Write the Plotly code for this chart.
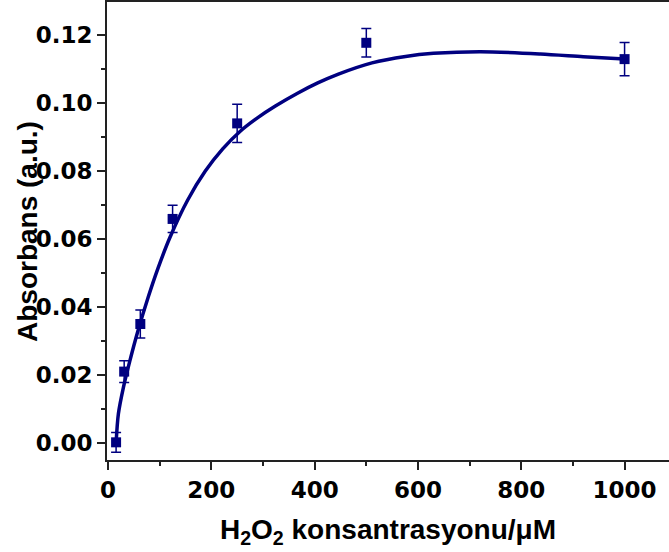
import plotly.graph_objects as go

# Measured data points
conc = [15.6, 31.25, 62.5, 125, 250, 500, 1000]
absorb = [0.0002, 0.021, 0.0350, 0.0659, 0.094, 0.1177, 0.1129]
err = [0.0029, 0.0032, 0.0041, 0.0040, 0.0056, 0.0042, 0.0049]

# Fitted curve
fit_x = [15.6, 20, 30, 42, 58, 78, 97, 120, 154, 188, 222, 256, 290, 324,
         366, 406, 446, 511, 576, 630, 721, 837, 920, 1000]
fit_y = [0.0, 0.0085, 0.0165, 0.024, 0.033, 0.043, 0.0515, 0.0605, 0.0714,
         0.0799, 0.0865, 0.0917, 0.0957, 0.0991, 0.1028, 0.1059, 0.1085,
         0.1118, 0.1137, 0.1146, 0.1151, 0.1144, 0.1136, 0.1129]

navy = "#000080"
hfont = "DejaVu Sans, Verdana, sans-serif"
afont = "Liberation Sans, Arial, sans-serif"

fig = go.Figure()
fig.add_trace(go.Scatter(
    x=fit_x, y=fit_y, mode="lines",
    line=dict(color=navy, width=3.5, shape="spline", smoothing=0.8),
    showlegend=False, hoverinfo="skip"))
fig.add_trace(go.Scatter(
    x=conc, y=absorb, mode="markers",
    marker=dict(symbol="square", size=10, color=navy),
    error_y=dict(type="data", array=err, visible=True, color=navy,
                 thickness=1.5, width=5),
    showlegend=False))

fig.update_layout(
    width=669, height=552,
    margin=dict(l=107, r=0, t=2, b=92),
    plot_bgcolor="white", paper_bgcolor="white",
    font=dict(family=hfont, color="black"),
    xaxis=dict(
        range=[-2, 1086], tickmode="array",
        tickvals=[0, 200, 400, 600, 800, 1000],
        ticks="outside", ticklen=8, tickwidth=1.5, tickcolor="#222",
        minor=dict(tickvals=[100, 300, 500, 700, 900], ticks="outside",
                   ticklen=4, tickwidth=1.5, tickcolor="#222"),
        showline=True, linecolor="#222", linewidth=2, mirror=True,
        showgrid=False, zeroline=False,
        tickfont=dict(size=23, family=hfont, weight="bold"),
        title=dict(text="H<sub>2</sub>O<sub>2</sub> konsantrasyonu/μM",
                   font=dict(size=28, family=afont, weight="bold"), standoff=18),
    ),
    yaxis=dict(
        range=[-0.005, 0.1297], tickmode="array",
        tickvals=[0.0, 0.02, 0.04, 0.06, 0.08, 0.10, 0.12],
        ticktext=["0.00", "0.02", "0.04", "0.06", "0.08", "0.10", "0.12"],
        ticks="outside", ticklen=8, tickwidth=1.5, tickcolor="#222",
        minor=dict(tickvals=[0.01, 0.03, 0.05, 0.07, 0.09, 0.11], ticks="outside",
                   ticklen=4, tickwidth=1.5, tickcolor="#222"),
        showline=True, linecolor="#222", linewidth=2, mirror=False,
        showgrid=False, zeroline=False,
        tickfont=dict(size=23, family=hfont, weight="bold"),
    ),
    annotations=[dict(
        text="Absorbans (a.u.)", textangle=-90, showarrow=False,
        xref="paper", yref="paper", x=(27 - 107) / 562, y=0.5,
        xanchor="center", yanchor="middle",
        font=dict(size=28, family=afont, weight="bold", color="black"))],
)

fig.write_html("out.html")
